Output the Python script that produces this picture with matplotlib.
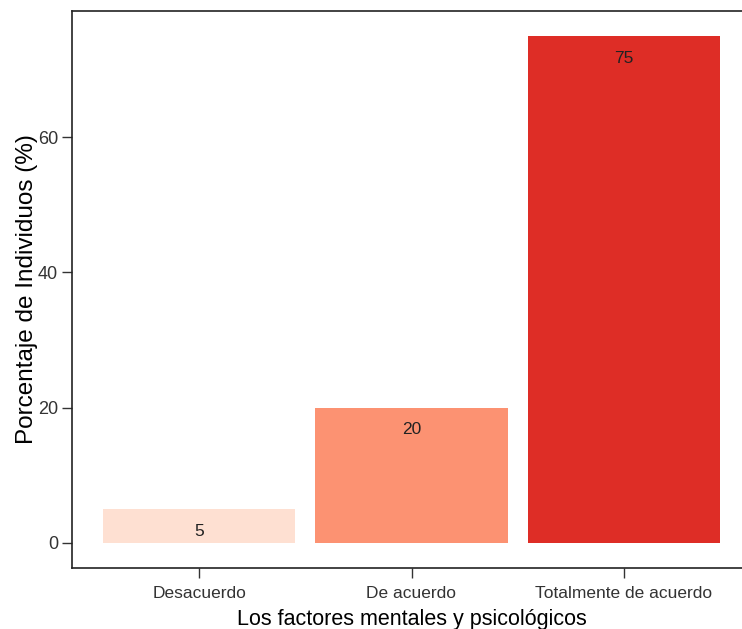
import matplotlib
matplotlib.use("Agg")
import matplotlib.pyplot as plt

categories = ["Desacuerdo", "De acuerdo", "Totalmente de acuerdo"]
values = [5, 20, 75]
colors = ["#FEE0D2", "#FC9272", "#DE2D26"]
yticks = [0, 20, 40, 60]

font = "Liberation Sans"

fig = plt.figure(figsize=(7.42, 6.29), dpi=100)
ax = fig.add_axes([72/742, 1-568/629, (751-72)/742, (568-10.5)/629])

x = list(range(1, len(categories)+1))
ax.bar(x, values, width=0.905, color=colors, edgecolor="none")
for xi, v in zip(x, values):
    ax.annotate(str(v), (xi, v), xytext=(0, -16), textcoords="offset points",
                ha="center", va="center", fontsize=12.5, family=font, color="#222222")

ax.set_xlim(0.4, 3.6)
ax.set_ylim(-3.75, 78.75)
ax.set_xticks(x)
ax.set_xticklabels(categories, family=font, fontsize=12.5, color="#333333")
ax.set_yticks(yticks)
ax.set_yticklabels([str(t) for t in yticks], family=font, fontsize=13, color="#333333")
ax.tick_params(axis="both", length=7, width=1, color="#333333")
ax.tick_params(axis="x", pad=6)
ax.tick_params(axis="y", pad=3)
for s in ax.spines.values():
    s.set_linewidth(1.2)
    s.set_color("#222222")
ax.set_xlabel("Los factores mentales y psicológicos", family=font, fontsize=15.5, labelpad=6)
ax.set_ylabel("Porcentaje de Individuos (%)", family=font, fontsize=17.5, labelpad=0)

fig.savefig("out.png", dpi=100)
